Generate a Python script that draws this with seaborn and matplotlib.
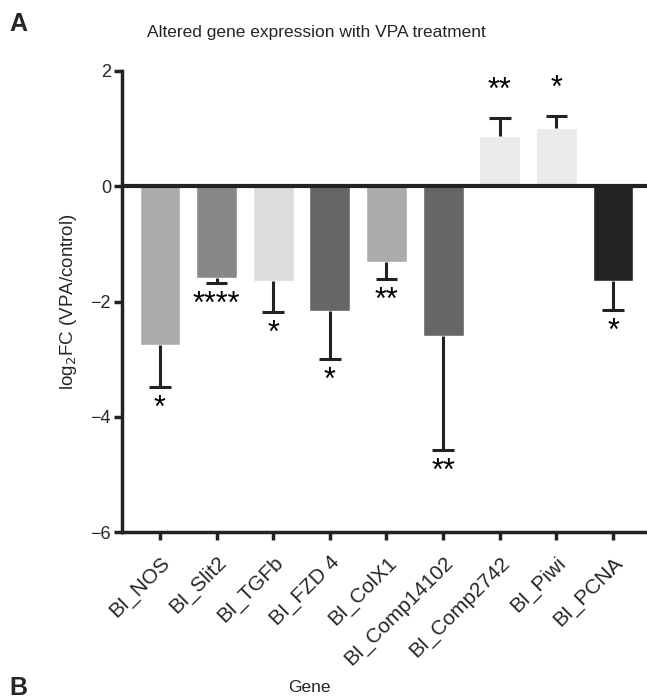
import numpy as np
import pandas as pd
import seaborn as sns
import matplotlib.pyplot as plt

genes = ["BI_NOS", "BI_Slit2", "BI_TGFb", "BI_FZD 4", "BI_ColX1",
         "BI_Comp14102", "BI_Comp2742", "BI_Piwi", "BI_PCNA"]
log2fc = [-2.76, -1.60, -1.65, -2.17, -1.32, -2.60, 0.87, 1.01, -1.65]
sem = [0.72, 0.08, 0.54, 0.82, 0.29, 1.98, 0.31, 0.21, 0.49]
stars = ["*", "****", "*", "*", "**", "**", "**", "*", "*"]
bar_colors = ["#ababab", "#888888", "#dcdcdc", "#666666", "#ababab",
              "#666666", "#ebebeb", "#ebebeb", "#232323"]

df = pd.DataFrame({"gene": genes, "fc": log2fc, "sem": sem})

sns.set_theme(style="ticks")
plt.rcParams["font.family"] = ["Liberation Sans", "DejaVu Sans"]
dark = "#222222"

fig = plt.figure(figsize=(6.47, 6.98), dpi=100)
ax = fig.add_axes([0.1886, 0.2378, 0.8114, 0.6605])

sns.barplot(data=df, x="gene", y="fc", hue="gene", palette=bar_colors,
            legend=False, width=0.72, errorbar=None, ax=ax, saturation=1,
            zorder=2)

# one-sided error bars, pointing away from zero, cap only at the far end
xs = np.arange(len(genes))
fc = np.array(log2fc)
err = np.array(sem)
tip = np.where(fc < 0, fc - err, fc + err)
ax.vlines(xs, fc, tip, color=dark, lw=2.2, zorder=3)
ax.hlines(tip, xs - 0.19, xs + 0.19, color=dark, lw=2.2, zorder=3)

for x, t, v, s in zip(xs, tip, fc, stars):
    if v < 0:
        ax.annotate(s, (x, t), xytext=(0, -5), textcoords="offset points",
                    ha="center", va="top", fontsize=22, color="black")
    else:
        ax.annotate(s, (x, t), xytext=(0, 9), textcoords="offset points",
                    ha="center", va="bottom", fontsize=22, color="black")

ax.axhline(0, color=dark, lw=3, zorder=4)

ax.set_ylim(-6, 2)
ax.set_xlim(-0.67, 8.6)
ax.set_yticks([2, 0, -2, -4, -6])
ax.set_yticklabels(["2", "0", "\u22122", "\u22124", "\u22126"])
sns.despine(ax=ax)
for side in ["left", "bottom"]:
    ax.spines[side].set_linewidth(2.5)
    ax.spines[side].set_color(dark)
ax.tick_params(axis="y", width=2.5, length=6, color=dark, labelsize=13,
               direction="out", pad=2)
ax.tick_params(axis="x", width=2.5, length=6, color=dark, labelsize=15,
               direction="out", pad=9)
ax.set_xticks(xs)
ax.set_xticklabels(genes, rotation=45, ha="right", rotation_mode="anchor")
ax.set_xlabel("")
ax.set_ylabel("log$_2$FC (VPA/control)", fontsize=13.5, labelpad=8)

fig.text(0.489, 0.954, "Altered gene expression with VPA treatment",
         ha="center", va="center", fontsize=12.5)
fig.text(0.478, 0.015, "Gene", ha="center", va="center", fontsize=12.5)
fig.text(0.015, 0.966, "A", ha="left", va="center", fontsize=18,
         fontweight="bold")
fig.text(0.015, 0.015, "B", ha="left", va="center", fontsize=18,
         fontweight="bold")

fig.savefig("out.png", dpi=100)
